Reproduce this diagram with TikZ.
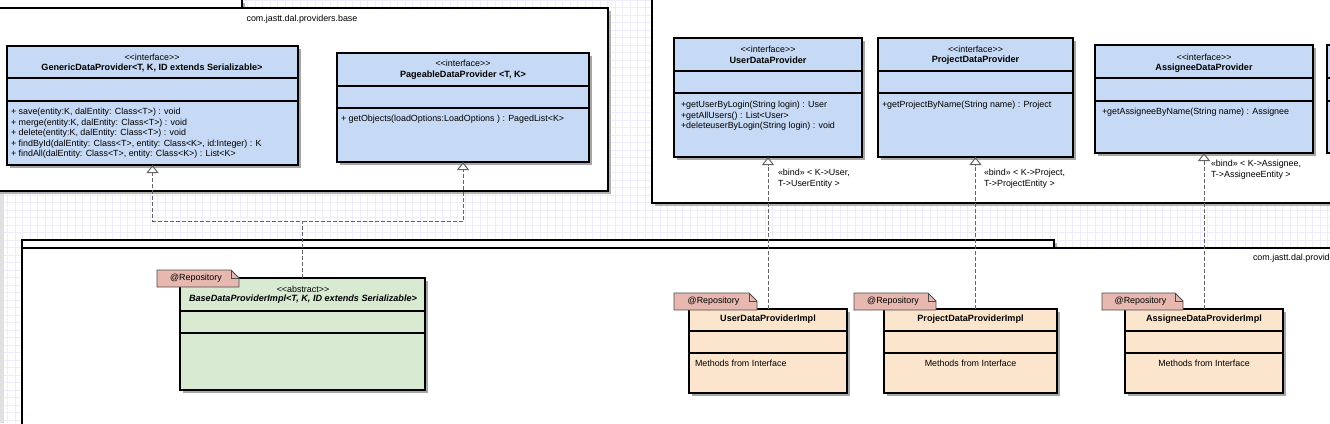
\documentclass[tikz,border=0pt]{standalone}
\usepackage{fontspec}
\setmainfont{Liberation Sans}
\usetikzlibrary{arrows.meta,shadows,calc}
\definecolor{ifblue}{RGB}{198,217,245}
\definecolor{implpeach}{RGB}{252,229,205}
\definecolor{absgreen}{RGB}{217,234,211}
\definecolor{tagpink}{RGB}{230,184,175}
\definecolor{gridlav}{RGB}{236,236,252}
\definecolor{conngray}{RGB}{100,100,100}
\begin{document}
\begin{tikzpicture}[x=1pt,y=-1pt,
  every node/.style={inner sep=0pt,outer sep=0pt,font=\fontsize{8.9}{10.5}\selectfont},
  cls/.style={draw=black,line width=1.3pt,anchor=north west,general shadow={fill=black!35,shadow xshift=3pt,shadow yshift=-3pt}},
  iface/.style={cls,fill=ifblue},
  impl/.style={cls,fill=implpeach},
  abstr/.style={cls,fill=absgreen},
  pkg/.style={draw=black,line width=1.8pt,fill=white,anchor=north west,general shadow={fill=black!30,shadow xshift=3pt,shadow yshift=-3pt}},
  sep/.style={line width=1.3pt},
  tagbox/.style={anchor=north west},
  tagline/.style={draw=black!70,fill=tagpink,line width=0.8pt},
  cname/.style={font=\fontsize{9.1}{10.5}\selectfont\bfseries},
  ops/.style={anchor=north west,align=left},
  bindlbl/.style={anchor=north west,align=left},
  realize/.style={draw=conngray,line width=1pt,dash pattern=on 4pt off 2pt,-{Triangle[open,length=8pt,width=12pt]}}]
\useasboundingbox (0,0) rectangle (1330,423);
\clip (0,0) rectangle (1330,423);
\fill[white] (0,0) rectangle (1330,423);
\draw[gridlav,line width=0.5pt] (0,0) grid[step=7.5pt] (1330,423);
\fill[black!12] (0,192) rectangle (4,423);

\node[pkg,minimum width=252,minimum height=8] (basetab) at (-10,-0.5) {};
\node[pkg,minimum width=618,minimum height=183] (basepkg) at (-10,8) {};
\node (basettl) at (302,19) {com.jastt.dal.providers.base};
\node[pkg,minimum width=700,minimum height=213] (bindpkg) at (652,-10) {};
\node[pkg,minimum width=1032,minimum height=8] (impltab) at (22,240) {};
\node[pkg,minimum width=1330,minimum height=190] (implpkg) at (22,248) {};
\node[anchor=west] (implttl) at (1253,258) {com.jastt.dal.providers};

\node[iface,minimum width=291,minimum height=119] (gen) at (7,46) {};
\draw[sep] (gen.west |- 0,78) -- (gen.east |- 0,78);
\draw[sep] (gen.west |- 0,101) -- (gen.east |- 0,101);
\node (genst) at (152,57) {<{}<interface>{}>};
\node[cname] (genname) at (152,68) {GenericDataProvider<T, K, ID extends Serializable>};
\node[ops] (genops) at (11,108.5) {+ save(entity:K, dalEntity: Class<T>) : void\\+ merge(entity:K, dalEntity: Class<T>) : void\\+ delete(entity:K, dalEntity: Class<T>) : void\\+ findById(dalEntity: Class<T>, entity: Class<K>, id:Integer) : K\\+ findAll(dalEntity: Class<T>, entity: Class<K>) : List<K>};

\node[iface,minimum width=252,minimum height=109] (page) at (337,53) {};
\draw[sep] (page.west |- 0,86) -- (page.east |- 0,86);
\draw[sep] (page.west |- 0,108) -- (page.east |- 0,108);
\node (pagest) at (463,63) {<{}<interface>{}>};
\node[cname] (pagename) at (463,75) {PageableDataProvider <T, K>};
\node[ops] (pageops) at (341,115.5) {+ getObjects(loadOptions:LoadOptions ) : PagedList<K>};

\node[iface,minimum width=188,minimum height=119] (user) at (674,38) {};
\draw[sep] (user.west |- 0,71) -- (user.east |- 0,71);
\draw[sep] (user.west |- 0,93) -- (user.east |- 0,93);
\node (userst) at (768,49) {<{}<interface>{}>};
\node[cname] (username) at (768,60) {UserDataProvider};
\node[ops] (userops) at (681,101.5) {+getUserByLogin(String login) : User\\+getAllUsers() : List<User>\\+deleteuserByLogin(String login) : void};

\node[iface,minimum width=195,minimum height=119] (proj) at (878,38) {};
\draw[sep] (proj.west |- 0,71) -- (proj.east |- 0,71);
\draw[sep] (proj.west |- 0,93) -- (proj.east |- 0,93);
\node (projst) at (975.5,49) {<{}<interface>{}>};
\node[cname] (projname) at (975.5,60) {ProjectDataProvider};
\node[ops] (projops) at (882,101.5) {+getProjectByName(String name) : Project};

\node[iface,minimum width=218,minimum height=108] (asg) at (1095,45) {};
\draw[sep] (asg.west |- 0,78) -- (asg.east |- 0,78);
\draw[sep] (asg.west |- 0,101) -- (asg.east |- 0,101);
\node (asgst) at (1204,57) {<{}<interface>{}>};
\node[cname] (asgname) at (1204,68) {AssigneeDataProvider};
\node[ops] (asgops) at (1102,108.5) {+getAssigneeByName(String name) : Assignee};

\node[iface,minimum width=60,minimum height=108] (nextif) at (1327,45) {};
\draw[sep] (nextif.west |- 0,78) -- (nextif.east |- 0,78);
\draw[sep] (nextif.west |- 0,101) -- (nextif.east |- 0,101);

\node[abstr,minimum width=245,minimum height=112] (base) at (180,278) {};
\draw[sep] (base.west |- 0,311) -- (base.east |- 0,311);
\draw[sep] (base.west |- 0,333) -- (base.east |- 0,333);
\node (basest) at (303,289) {<{}<abstract>{}>};
\node[cname,font=\fontsize{9.1}{10.5}\selectfont\bfseries\itshape] (basename) at (303,299) {BaseDataProviderImpl<T, K, ID extends Serializable>};

\node[impl,minimum width=158,minimum height=84] (userimpl) at (689,309) {};
\draw[sep] (userimpl.west |- 0,331) -- (userimpl.east |- 0,331);
\draw[sep] (userimpl.west |- 0,353) -- (userimpl.east |- 0,353);
\node[cname] (userimplname) at (768,319) {UserDataProviderImpl};
\node[anchor=west] (userimplops) at (695,363) {Methods from Interface};

\node[impl,minimum width=173,minimum height=84] (projimpl) at (884,309) {};
\draw[sep] (projimpl.west |- 0,331) -- (projimpl.east |- 0,331);
\draw[sep] (projimpl.west |- 0,353) -- (projimpl.east |- 0,353);
\node[cname] (projimplname) at (970.5,319) {ProjectDataProviderImpl};
\node (projimplops) at (970.5,363) {Methods from Interface};

\node[impl,minimum width=158,minimum height=84] (asgimpl) at (1125,309) {};
\draw[sep] (asgimpl.west |- 0,331) -- (asgimpl.east |- 0,331);
\draw[sep] (asgimpl.west |- 0,353) -- (asgimpl.east |- 0,353);
\node[cname] (asgimplname) at (1204,319) {AssigneeDataProviderImpl};
\node (asgimplops) at (1204,363) {Methods from Interface};

\coordinate (jn) at (base.north |- 0,221);
\draw[realize] (base.north) -- (jn) -| (gen.south);
\draw[realize] (jn) -| (page.south);
\draw[realize] (userimpl.north) -- (user.south);
\draw[realize] (projimpl.north -| proj.south) -- (proj.south);
\draw[realize] (asgimpl.north) -- (asg.south);

\node[bindlbl] (userbind) at (778,169.5) {«bind» < K->User,\\T->UserEntity >};
\node[bindlbl] (projbind) at (984,169.5) {«bind» < K->Project,\\T->ProjectEntity >};
\node[bindlbl] (asgbind) at (1211,160.5) {«bind» < K->Assignee,\\T->AssigneeEntity >};

\node[tagbox,minimum width=82,minimum height=17] (basetag) at (157,270) {};
\node[tagbox,minimum width=83,minimum height=17] (usertag) at (674,293) {};
\node[tagbox,minimum width=82,minimum height=17] (projtag) at (854,293) {};
\node[tagbox,minimum width=81,minimum height=17] (asgtag) at (1102,293) {};
\foreach \t in {basetag,usertag,projtag,asgtag} {
  \filldraw[tagline] (\t.south west) -- (\t.north west) -- ($(\t.north east)+(-8,0)$) -- ($(\t.north east)+(0,8)$) -- (\t.south east) -- cycle;
  \draw[black!70,line width=0.6pt] ($(\t.north east)+(-8,0)$) -- ($(\t.north east)+(-8,8)$) -- ($(\t.north east)+(0,8)$);
  \node at ($(\t.center)+(-2,0)$) {@Repository};
}
\end{tikzpicture}
\end{document}
